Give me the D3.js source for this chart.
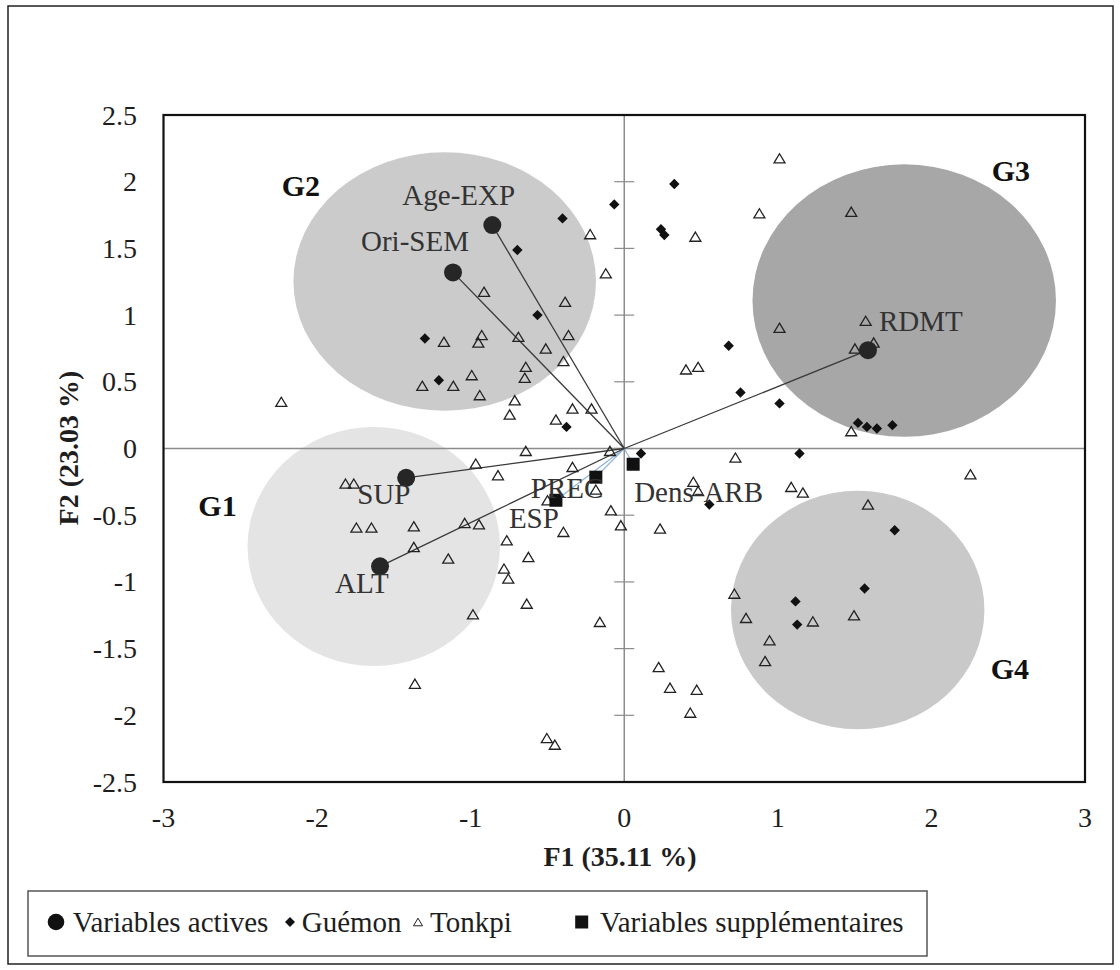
<!DOCTYPE html>
<html>
<head>
<meta charset="utf-8">
<script src="https://cdn.jsdelivr.net/npm/d3@7"></script>
<style>
  html, body { margin: 0; padding: 0; background: #fff; }
  svg { display: block; }
  text { font-family: "Liberation Serif", "Times New Roman", serif; fill: #1e1e1e; }
</style>
</head>
<body>
<svg id="chart"></svg>
<script>
// ---- data (F1 / F2 coordinates) ----
const activeNames = ["Age-EXP", "Ori-SEM", "SUP", "ALT", "RDMT"];
const activeF1 = [-0.859, -1.115, -1.42, -1.59, 1.587];
const activeF2 = [1.675, 1.32, -0.22, -0.883, 0.737];

const suppNames = ["PREC", "ESP", "Dens-ARB"];
const suppF1 = [-0.185, -0.445, 0.058];
const suppF2 = [-0.215, -0.388, -0.118];

const guemonF1 = [-0.065, -0.402, -0.696, -0.565, -1.298, -1.207, -0.376, 0.326, 0.239, 0.261,
  0.68, 0.757, 1.011, 1.522, 1.58, 1.645, 1.746, 0.109, 1.141, 0.554, 1.761, 1.565, 1.115, 1.126];
const guemonF2 = [1.83, 1.725, 1.488, 1.0, 0.825, 0.512, 0.162, 1.983, 1.643, 1.6,
  0.77, 0.42, 0.338, 0.192, 0.162, 0.15, 0.175, -0.038, -0.038, -0.42, -0.613, -1.05, -1.146, -1.32];

const tonkpiF1 = [-0.222, -0.12, -0.913, -0.385, -1.174, -0.928, -0.95, -0.689, -0.363, -0.511,
  -0.396, -0.641, -0.648, -1.315, -1.113, -0.993, -0.941, -2.233, -0.713, -0.746,
  -0.337, -0.213, -0.445, -0.641, -0.093, -0.967, -0.822, -0.337, -1.815, -1.761,
  -0.5, -0.185, -0.087, -0.022, -1.744, -1.646, -1.37, -1.039, -0.946, -0.396,
  -0.765, -1.37, -1.146, -0.624, -0.783, -0.755, -0.635, -0.985, -0.159, -1.363,
  -0.504, -0.452, 1.011, 0.88, 0.463, 1.478, 1.011, 1.572, 1.502, 1.624,
  0.402, 0.481, 1.478, 0.724, 0.45, 0.481, 1.087, 1.163, 2.254, 0.233,
  1.587, 0.717, 0.793, 1.228, 1.496, 0.946, 0.917, 0.224, 0.298, 0.472, 0.43];
const tonkpiF2 = [1.607, 1.313, 1.175, 1.1, 0.8, 0.85, 0.795, 0.837, 0.85, 0.75,
  0.655, 0.612, 0.53, 0.47, 0.47, 0.55, 0.4, 0.35, 0.362, 0.255,
  0.3, 0.3, 0.217, -0.018, -0.018, -0.113, -0.2, -0.138, -0.263, -0.263,
  -0.388, -0.308, -0.463, -0.575, -0.593, -0.593, -0.583, -0.558, -0.568, -0.625,
  -0.688, -0.738, -0.825, -0.813, -0.9, -0.975, -1.163, -1.243, -1.3, -1.763,
  -2.171, -2.22, 2.175, 1.763, 1.588, 1.775, 0.905, 0.957, 0.75, 0.795,
  0.593, 0.612, 0.13, -0.068, -0.25, -0.318, -0.288, -0.33, -0.193, -0.6,
  -0.42, -1.088, -1.27, -1.296, -1.25, -1.438, -1.593, -1.638, -1.793, -1.808, -1.98];

// groups: ellipse centre and radii in F1/F2 units
const groupNames = ["G1", "G2", "G3", "G4"];
const groupF1 = [-1.631, -1.169, 1.823, 1.52];
const groupF2 = [-0.735, 1.252, 1.109, -1.211];
const groupR1 = [0.822, 0.985, 0.988, 0.825];
const groupR2 = [0.896, 0.969, 1.021, 0.894];

const xTicks = [-3, -2, -1, 0, 1, 2, 3];
const yTicks = [-2.5, -2, -1.5, -1, -0.5, 0, 0.5, 1, 1.5, 2, 2.5];

const xTitle = "F1 (35.11 %)";
const yTitle = "F2 (23.03 %)";
const legendLabels = ["Variables actives", "Guémon", "Tonkpi", "Variables supplémentaires"];

// ---- layout / style ----
const W = 1120, H = 970;
const plot = { left: 163.5, right: 1085, top: 115, bottom: 782 };
const groupColors = ["#e4e4e4", "#cbcbcb", "#a7a7a7", "#c9c9c9"];
const groupLabelAt = [[-2.773, -0.506], [-2.23, 1.895], [2.393, 2.005], [2.386, -1.73]];
const activeLabelOff = [[-90, -20], [-92, -21], [-49, 26], [-45, 27], [11, -19]];
const suppLabelOff = [[-65, 21], [-47, 28], [1, 38]];
const legendX = [56, 290, 418, 581.7];
const legendTextX = [72.7, 301.7, 430, 600];
const legendY = 922;

const svg = d3.select("#chart").attr("width", W).attr("height", H);

const x = d3.scaleLinear().domain([-3, 3]).range([plot.left, plot.right]);
const y = d3.scaleLinear().domain([-2.5, 2.5]).range([plot.bottom, plot.top]);

// outer frame
svg.append("rect")
  .attr("x", 8).attr("y", 6).attr("width", 1105).attr("height", 958)
  .attr("fill", "none").attr("stroke", "#222").attr("stroke-width", 1.5);

// group ellipses
svg.append("g").selectAll("ellipse")
  .data(groupNames)
  .join("ellipse")
  .attr("cx", (d, i) => x(groupF1[i]))
  .attr("cy", (d, i) => y(groupF2[i]))
  .attr("rx", (d, i) => x(groupR1[i]) - x(0))
  .attr("ry", (d, i) => y(0) - y(groupR2[i]))
  .attr("fill", (d, i) => groupColors[i]);

// centre axes with crossing ticks
const axisColor = "#8c8c8c";
svg.append("line")
  .attr("x1", x(-3)).attr("x2", x(3)).attr("y1", y(0)).attr("y2", y(0))
  .attr("stroke", axisColor).attr("stroke-width", 1.5);
svg.append("line")
  .attr("x1", x(0)).attr("x2", x(0)).attr("y1", y(-2.5)).attr("y2", y(2.5))
  .attr("stroke", axisColor).attr("stroke-width", 1.5);
svg.append("g").selectAll("line")
  .data(yTicks)
  .join("line")
  .attr("x1", x(0) - 10).attr("x2", x(0) + 10)
  .attr("y1", d => y(d)).attr("y2", d => y(d))
  .attr("stroke", axisColor).attr("stroke-width", 1.2);

// plot border
svg.append("rect")
  .attr("x", plot.left).attr("y", plot.top)
  .attr("width", plot.right - plot.left).attr("height", plot.bottom - plot.top)
  .attr("fill", "none").attr("stroke", "#111").attr("stroke-width", 2.2);

// tick labels
svg.append("g").selectAll("text")
  .data(xTicks)
  .join("text")
  .attr("x", d => x(d)).attr("y", 827)
  .attr("text-anchor", "middle")
  .attr("font-size", 28)
  .text(d => d);
svg.append("g").selectAll("text")
  .data(yTicks)
  .join("text")
  .attr("x", 137).attr("y", d => y(d) + 9.5)
  .attr("text-anchor", "end")
  .attr("font-size", 28)
  .text(d => d);

// axis titles
svg.append("text")
  .attr("x", 620).attr("y", 866)
  .attr("text-anchor", "middle")
  .attr("font-size", 28).attr("font-weight", "bold")
  .text(xTitle);
svg.append("text")
  .attr("transform", "translate(78,448) rotate(-90)")
  .attr("text-anchor", "middle")
  .attr("font-size", 28).attr("font-weight", "bold")
  .text(yTitle);

// symbol paths
function diamondPath(r) {
  return `M0,${-r}L${r},0L0,${r}L${-r},0Z`;
}
function trianglePath(w, h) {
  return `M0,${-h}L${w},${h}L${-w},${h}Z`;
}

// loading vectors
svg.append("g").selectAll("line")
  .data(suppNames)
  .join("line")
  .attr("x1", x(0)).attr("y1", y(0))
  .attr("x2", (d, i) => x(suppF1[i])).attr("y2", (d, i) => y(suppF2[i]))
  .attr("stroke", "#8db3d6").attr("stroke-width", 1.2);
svg.append("g").selectAll("line")
  .data(activeNames)
  .join("line")
  .attr("x1", x(0)).attr("y1", y(0))
  .attr("x2", (d, i) => x(activeF1[i])).attr("y2", (d, i) => y(activeF2[i]))
  .attr("stroke", "#3a3a3a").attr("stroke-width", 1.3);

// Tonkpi (open triangles)
svg.append("g").selectAll("path")
  .data(tonkpiF1)
  .join("path")
  .attr("transform", (d, i) => `translate(${x(d)},${y(tonkpiF2[i])})`)
  .attr("d", trianglePath(5.5, 4.6))
  .attr("fill", "#fff").attr("fill-opacity", 0)
  .attr("stroke", "#222").attr("stroke-width", 1.3);

// Guémon (filled diamonds)
svg.append("g").selectAll("path")
  .data(guemonF1)
  .join("path")
  .attr("transform", (d, i) => `translate(${x(d)},${y(guemonF2[i])})`)
  .attr("d", diamondPath(5.2))
  .attr("fill", "#111");

// active variables
svg.append("g").selectAll("circle")
  .data(activeNames)
  .join("circle")
  .attr("cx", (d, i) => x(activeF1[i])).attr("cy", (d, i) => y(activeF2[i]))
  .attr("r", 9)
  .attr("fill", "#262626");

// supplementary variables
svg.append("g").selectAll("rect")
  .data(suppNames)
  .join("rect")
  .attr("x", (d, i) => x(suppF1[i]) - 6.5).attr("y", (d, i) => y(suppF2[i]) - 6.5)
  .attr("width", 13).attr("height", 13)
  .attr("fill", "#111");

// variable labels
svg.append("g").selectAll("text")
  .data(activeNames)
  .join("text")
  .attr("x", (d, i) => x(activeF1[i]) + activeLabelOff[i][0])
  .attr("y", (d, i) => y(activeF2[i]) + activeLabelOff[i][1])
  .attr("font-size", 29)
  .style("fill", "#333")
  .text(d => d);
svg.append("g").selectAll("text")
  .data(suppNames)
  .join("text")
  .attr("x", (d, i) => x(suppF1[i]) + suppLabelOff[i][0])
  .attr("y", (d, i) => y(suppF2[i]) + suppLabelOff[i][1])
  .attr("font-size", 29)
  .style("fill", "#333")
  .text(d => d);

// group labels
svg.append("g").selectAll("text")
  .data(groupNames)
  .join("text")
  .attr("x", (d, i) => x(groupLabelAt[i][0]))
  .attr("y", (d, i) => y(groupLabelAt[i][1]))
  .attr("font-size", 30).attr("font-weight", "bold")
  .style("fill", "#111")
  .text(d => d);

// legend
svg.append("rect")
  .attr("x", 28).attr("y", 891).attr("width", 899).attr("height", 65)
  .attr("fill", "#fff").attr("stroke", "#555").attr("stroke-width", 1.5);

const lg = svg.append("g");
lg.append("circle").attr("cx", legendX[0]).attr("cy", legendY).attr("r", 8.3).attr("fill", "#111");
lg.append("path").attr("transform", `translate(${legendX[1]},${legendY})`)
  .attr("d", diamondPath(5)).attr("fill", "#111");
lg.append("path").attr("transform", `translate(${legendX[2]},${legendY})`)
  .attr("d", trianglePath(4.5, 3.8)).attr("fill", "none").attr("stroke", "#222").attr("stroke-width", 1);
lg.append("rect").attr("x", legendX[3] - 6.5).attr("y", legendY - 6.5)
  .attr("width", 13).attr("height", 13).attr("fill", "#111");

lg.selectAll("text")
  .data(legendLabels)
  .join("text")
  .attr("x", (d, i) => legendTextX[i])
  .attr("y", 932)
  .attr("font-size", 29)
  .text(d => d);
</script>
</body>
</html>
